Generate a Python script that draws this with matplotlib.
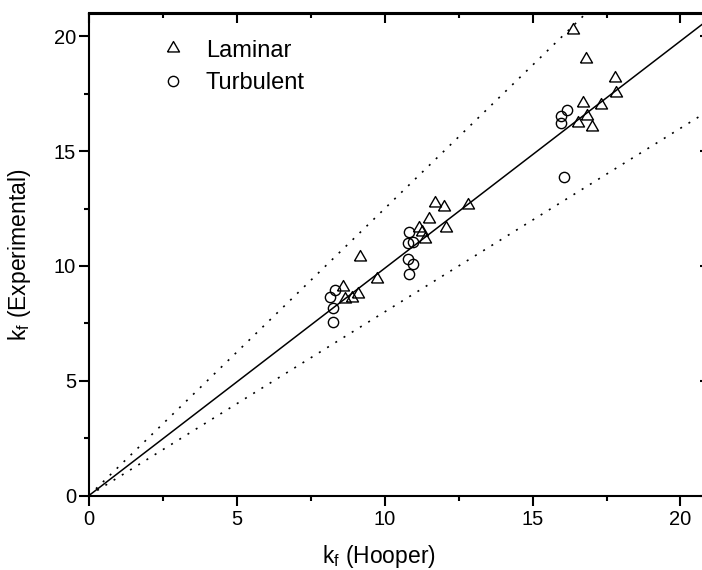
import numpy as np
import matplotlib
matplotlib.use("Agg")
import matplotlib.pyplot as plt
from matplotlib.ticker import MultipleLocator, NullFormatter

plt.rcParams['font.family'] = ['Liberation Sans', 'DejaVu Sans']
plt.rcParams['mathtext.fontset'] = 'custom'
plt.rcParams['mathtext.rm'] = 'Liberation Sans'

# Laminar points (kf Hooper, kf Experimental)
lam_x = [16.38, 16.82, 17.80, 17.83, 16.72, 17.33, 16.85, 16.55, 17.02,
         11.71, 12.01, 12.83, 11.50, 12.08, 11.17, 11.27, 11.37,
         9.17, 9.75, 8.60, 8.66, 8.90, 9.10]
lam_y = [20.28, 19.02, 18.19, 17.54, 17.10, 17.01, 16.54, 16.23, 16.06,
         12.75, 12.57, 12.66, 12.05, 11.66, 11.66, 11.48, 11.18,
         10.40, 9.45, 9.08, 8.56, 8.60, 8.80]

# Turbulent points
tur_x = [16.18, 15.97, 15.97, 16.07,
         10.83, 10.80, 10.96, 10.80, 10.96, 10.83,
         8.33, 8.16, 8.26, 8.26]
tur_y = [16.80, 16.54, 16.23, 13.88,
         11.48, 11.00, 11.05, 10.30, 10.09, 9.65,
         8.95, 8.65, 8.15, 7.56]

fit_slope = 0.99
upper_slope = 1.25
lower_slope = 0.80
lim = 21

tri = [(-1, -0.577), (1, -0.577), (0, 1.155), (-1, -0.577)]

fig = plt.figure(figsize=(7.02, 5.70), dpi=100)
ax = fig.add_axes([89 / 702, 1 - 495.5 / 570, 621 / 702, 482 / 570])

xs = np.array([0, lim])
ax.plot(xs, fit_slope * xs, color='black', lw=1.1)
ax.plot(xs, upper_slope * xs, color='black', lw=1.2, linestyle=(0, (1.2, 4.6)))
ax.plot(xs, lower_slope * xs, color='black', lw=1.2, linestyle=(0, (1.2, 4.6)))

ax.plot(lam_x, lam_y, linestyle='none', marker=tri, ms=10, mfc='none',
        mec='black', mew=1.0, label='Laminar', clip_on=False)
ax.plot(tur_x, tur_y, linestyle='none', marker='o', ms=7.4, mfc='none',
        mec='black', mew=1.0, label='Turbulent', clip_on=False)

ax.set_xlim(0, lim)
ax.set_ylim(0, lim)
ax.xaxis.set_major_locator(MultipleLocator(5))
ax.xaxis.set_minor_locator(MultipleLocator(2.5))
ax.yaxis.set_major_locator(MultipleLocator(5))
ax.yaxis.set_minor_locator(MultipleLocator(2.5))

for sp in ax.spines.values():
    sp.set_linewidth(1.5)

ax.tick_params(which='both', direction='out', width=1.5, labelsize=14.5,
               top=False, right=False)
ax.tick_params(which='major', length=7.2)
ax.tick_params(which='minor', length=3.6)
ax.tick_params(axis='x', pad=3)
ax.tick_params(axis='y', pad=2)

# mirrored inward ticks on top and right
secx = ax.secondary_xaxis('top')
secx.xaxis.set_major_locator(MultipleLocator(5))
secx.xaxis.set_minor_locator(MultipleLocator(2.5))
secx.xaxis.set_major_formatter(NullFormatter())
secx.tick_params(which='both', direction='in', width=1.5)
secx.tick_params(which='major', length=7.2)
secx.tick_params(which='minor', length=3.6)
secx.spines['top'].set_linewidth(1.5)
secy = ax.secondary_yaxis('right')
secy.yaxis.set_major_locator(MultipleLocator(5))
secy.yaxis.set_minor_locator(MultipleLocator(2.5))
secy.yaxis.set_major_formatter(NullFormatter())
secy.tick_params(which='both', direction='in', width=1.5)
secy.tick_params(which='major', length=7.2)
secy.tick_params(which='minor', length=3.6)
secy.spines['right'].set_linewidth(1.5)

ax.set_xlabel(r'$\mathregular{k_f}$ (Hooper)', fontsize=16.5)
ax.set_ylabel(r'$\mathregular{k_f}$ (Experimental)', fontsize=16.5)
ax.xaxis.set_label_coords((378.5 - 89) / 621, -48 / 482)
ax.yaxis.set_label_coords(-56 / 621, 0.5)

ax.legend(loc='upper left', bbox_to_anchor=(0.078, 0.99), frameon=False,
          fontsize=17, handletextpad=0.8, labelspacing=0.45, handlelength=1.2)

fig.savefig('out.png', dpi=100)
